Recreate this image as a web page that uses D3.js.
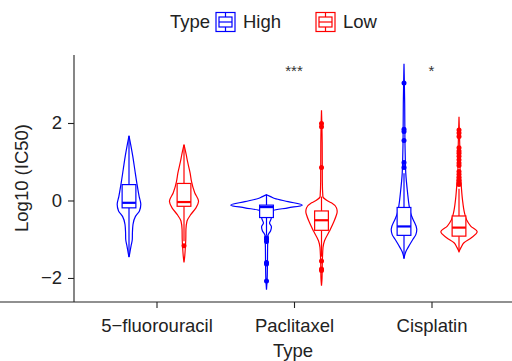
<!DOCTYPE html>
<html>
<head>
<meta charset="utf-8">
<script src="https://cdn.jsdelivr.net/npm/d3@7"></script>
<style>
  body { margin: 0; background: white; }
  svg text { font-family: "Liberation Sans", Arial, sans-serif; }
</style>
</head>
<body>
<div id="chart"></div>
<script>
var
  drugs = ["5\u2212fluorouracil", "Paclitaxel", "Cisplatin"],
  types = ["High", "Low"],
  yTicks = [-2, 0, 2],
  signifLabels = ["", "***", "*"],

  // violin profiles: [log10 IC50, density]
  fuHighDensity = [[1.67, 0], [1.45, 0.12], [1.15, 0.27], [0.8, 0.42], [0.45, 0.57], [0.1, 0.74], [-0.1, 0.86],
    [-0.27, 0.76], [-0.41, 0.47], [-0.62, 0.29], [-0.82, 0.25], [-1.0, 0.24], [-1.17, 0.15], [-1.35, 0.06], [-1.46, 0]],
  fuLowDensity = [[1.44, 0], [1.2, 0.15], [1.0, 0.26], [0.7, 0.45], [0.5, 0.54], [0.2, 0.78], [-0.02, 1.06],
    [-0.19, 0.87], [-0.36, 0.5], [-0.53, 0.22], [-0.75, 0.14], [-1.0, 0.13], [-1.2, 0.1], [-1.45, 0.05], [-1.6, 0]],
  pacHighDensity = [[0.15, 0], [0.1, 0.3], [0.05, 0.6], [-0.03, 1.57], [-0.12, 2.6], [-0.19, 1.57], [-0.26, 0.5],
    [-0.36, 0.38], [-0.48, 0.33], [-0.58, 0.22], [-0.68, 0.36], [-0.78, 0.3], [-0.9, 0.11], [-1.2, 0.08],
    [-1.6, 0.07], [-2.0, 0.05], [-2.3, 0]],
  pacLowDensity = [[2.33, 0], [1.5, 0.05], [0.5, 0.06], [0.1, 0.1], [0.0, 0.4], [-0.06, 0.72], [-0.19, 1.09],
    [-0.29, 1.14], [-0.4, 1.06], [-0.53, 0.92], [-0.79, 0.58], [-1.04, 0.22], [-1.21, 0.11], [-1.6, 0.06],
    [-2.0, 0.04], [-2.2, 0]],
  cisHighDensity = [[3.53, 0], [2.5, 0.05], [1.5, 0.07], [1.0, 0.1], [0.7, 0.13], [0.2, 0.26], [-0.15, 0.38],
    [-0.35, 0.5], [-0.49, 0.66], [-0.74, 0.93], [-0.88, 0.86], [-1.0, 0.65], [-1.21, 0.3], [-1.34, 0.11], [-1.5, 0]],
  cisLowDensity = [[2.16, 0], [1.5, 0.05], [0.8, 0.08], [0.45, 0.15], [0.03, 0.25], [-0.32, 0.4], [-0.5, 0.55],
    [-0.66, 0.85], [-0.81, 1.32], [-0.96, 0.9], [-1.09, 0.36], [-1.21, 0.15], [-1.32, 0]],

  // boxes: [lower whisker, q1, median, q3, upper whisker]
  highBoxes = [[-1.46, -0.19, -0.06, 0.41, 1.67], [-0.9, -0.44, -0.17, -0.12, 0.15], [-1.5, -0.9, -0.67, -0.18, 0.7]],
  lowBoxes = [[-1.05, -0.15, -0.04, 0.44, 1.44], [-1.45, -0.77, -0.51, -0.27, 0.1], [-1.32, -0.92, -0.7, -0.4, 0.3]],

  highOutliers = [[], [-0.96, -1.0, -1.06, -1.6, -1.64, -2.08], [3.03, 1.84, 1.78, 1.55, 0.98, 0.85]],
  lowOutliers = [[-1.17], [1.99, 1.9, 0.85, -1.56, -1.77, -1.81],
    [1.82, 1.74, 1.65, 1.36, 1.28, 1.22, 1.14, 1.05, 0.97, 0.9, 0.75, 0.68, 0.6, 0.52, 0.45, 0.41]];

var
  WIDTH = 512,
  HEIGHT = 361,
  TEXT_COLOR = "#222",
  FONT_SIZE = 18.5,
  TYPE_COLORS = {High: "#0000FF", Low: "#FF0000"},
  LINE_WIDTH = 1.2;

var
  densities = {High: [fuHighDensity, pacHighDensity, cisHighDensity], Low: [fuLowDensity, pacLowDensity, cisLowDensity]},
  boxes = {High: highBoxes, Low: lowBoxes},
  outliers = {High: highOutliers, Low: lowOutliers};

var svg = d3.select("#chart").append("svg")
  .attr("width", WIDTH)
  .attr("height", HEIGHT);

var x = d3.scalePoint().domain(drugs).range([74, 514]).padding(0.6);
var y = d3.scaleLinear().domain([-2.62, 3.755]).range([302, 55]);
var dodge = d3.scalePoint().domain(types).range([-0.2, 0.2]);
var w = d3.scaleLinear().domain([0, 1]).range([0, x.step() * 0.1]);
var boxHalf = x.step() * 0.05;

function drawGroup(g, type, i){
  var
    color = TYPE_COLORS[type],
    cx = x(drugs[i]) + dodge(type) * x.step(),
    b = boxes[type][i];

  var area = d3.area()
    .curve(d3.curveMonotoneY)
    .y(function(d){ return y(d[0]); })
    .x0(function(d){ return cx - w(d[1]); })
    .x1(function(d){ return cx + w(d[1]); });

  g.append("path")
    .attr("d", area(densities[type][i]))
    .attr("fill", "white")
    .attr("stroke", color)
    .attr("stroke-width", LINE_WIDTH);

  g.append("line")
    .attr("x1", cx).attr("x2", cx)
    .attr("y1", y(b[3])).attr("y2", y(b[4]))
    .attr("stroke", color).attr("stroke-width", LINE_WIDTH);
  g.append("line")
    .attr("x1", cx).attr("x2", cx)
    .attr("y1", y(b[1])).attr("y2", y(b[0]))
    .attr("stroke", color).attr("stroke-width", LINE_WIDTH);

  g.append("rect")
    .attr("x", cx - boxHalf)
    .attr("width", boxHalf * 2)
    .attr("y", y(b[3]))
    .attr("height", y(b[1]) - y(b[3]))
    .attr("fill", "white")
    .attr("stroke", color)
    .attr("stroke-width", LINE_WIDTH);

  g.append("line")
    .attr("x1", cx - boxHalf).attr("x2", cx + boxHalf)
    .attr("y1", y(b[2])).attr("y2", y(b[2]))
    .attr("stroke", color).attr("stroke-width", 2.2);

  g.selectAll("circle.out")
    .data(outliers[type][i])
    .join("circle")
    .attr("class", "out")
    .attr("cx", cx)
    .attr("cy", function(d){ return y(d); })
    .attr("r", 2.5)
    .attr("fill", color);
}

var plot = svg.append("g");
drugs.forEach(function(drug, i){
  types.forEach(function(type){
    drawGroup(plot.append("g"), type, i);
  });
});

// significance labels
svg.selectAll("text.sig")
  .data(signifLabels)
  .join("text")
  .attr("class", "sig")
  .attr("x", function(d, i){ return x(drugs[i]); })
  .attr("y", 76)
  .attr("text-anchor", "middle")
  .attr("font-size", 15)
  .attr("fill", "#333")
  .text(function(d){ return d; });

// axes
var xAxis = svg.append("g")
  .attr("transform", "translate(0,302)")
  .call(d3.axisBottom(x).tickSize(6).tickPadding(11).tickSizeOuter(0));
var yAxis = svg.append("g")
  .attr("transform", "translate(74,0)")
  .call(d3.axisLeft(y).tickValues(yTicks).tickFormat(d3.format("d")).tickSize(6).tickPadding(6).tickSizeOuter(0));

[xAxis, yAxis].forEach(function(a){
  a.select(".domain").attr("stroke", TEXT_COLOR).attr("stroke-width", 1.1);
  a.selectAll(".tick line").attr("stroke", TEXT_COLOR).attr("stroke-width", 1.1);
  a.selectAll(".tick text")
    .attr("fill", TEXT_COLOR)
    .attr("font-size", FONT_SIZE)
    .attr("font-family", "Liberation Sans, Arial, sans-serif");
});
yAxis.select(".domain").attr("d", "M0,55V302");
xAxis.select(".domain").attr("d", "M0,0H514");

svg.append("text")
  .attr("x", 293).attr("y", 357)
  .attr("text-anchor", "middle")
  .attr("font-size", FONT_SIZE)
  .attr("fill", TEXT_COLOR)
  .text("Type");

svg.append("text")
  .attr("transform", "translate(28,178) rotate(-90)")
  .attr("text-anchor", "middle")
  .attr("font-size", FONT_SIZE)
  .attr("fill", TEXT_COLOR)
  .text("Log10 (IC50)");

// legend
var legend = svg.append("g");
legend.append("text")
  .attr("x", 170).attr("y", 28)
  .attr("font-size", FONT_SIZE)
  .attr("fill", TEXT_COLOR)
  .text("Type");

var legendX = {High: 216, Low: 316};
types.forEach(function(type){
  var
    color = TYPE_COLORS[type],
    kx = legendX[type],
    ky = 12.5,
    key = legend.append("g").attr("stroke", color).attr("stroke-width", LINE_WIDTH).attr("fill", "none");
  key.append("rect").attr("x", kx).attr("y", ky).attr("width", 19).attr("height", 19);
  key.append("rect").attr("x", kx + 3).attr("y", ky + 4.5).attr("width", 13).attr("height", 10);
  key.append("line").attr("x1", kx + 3).attr("x2", kx + 16).attr("y1", ky + 9.5).attr("y2", ky + 9.5);
  key.append("line").attr("x1", kx + 9.5).attr("x2", kx + 9.5).attr("y1", ky).attr("y2", ky + 4.5);
  key.append("line").attr("x1", kx + 9.5).attr("x2", kx + 9.5).attr("y1", ky + 14.5).attr("y2", ky + 19);
  legend.append("text")
    .attr("x", kx + 27).attr("y", 28)
    .attr("font-size", FONT_SIZE)
    .attr("fill", TEXT_COLOR)
    .text(type);
});
</script>
</body>
</html>
